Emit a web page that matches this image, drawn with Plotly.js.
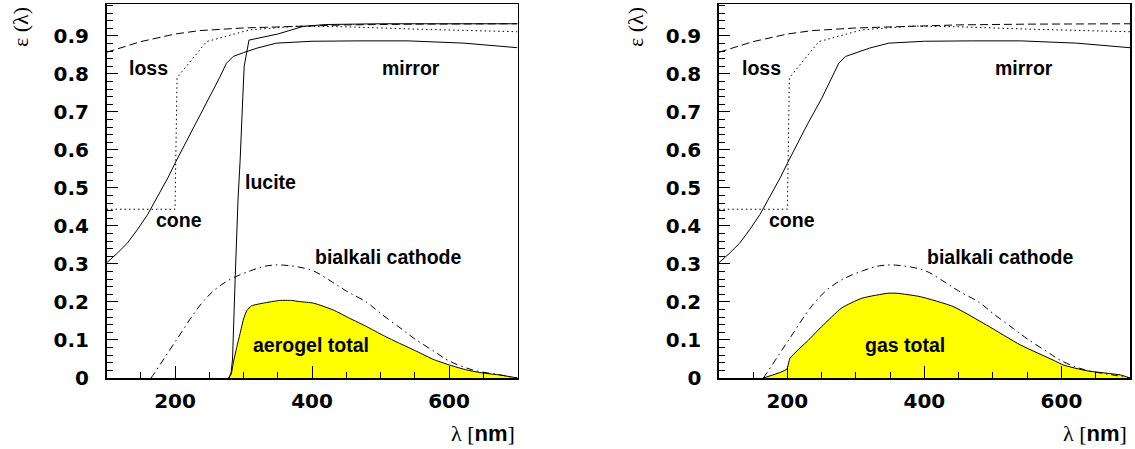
<!DOCTYPE html>
<html>
<head>
<meta charset="utf-8">
<script src="https://cdn.plot.ly/plotly-3.0.1.min.js"></script>
<style>html,body{margin:0;padding:0;background:#fff;}#chart{width:1135px;height:449px;}</style>
</head>
<body>
<div id="chart"></div>
<script>
// ---- data (wavelength in nm, efficiency) ----
var lossX = [100, 150, 200, 236, 300, 382, 450, 550, 700];
var lossY = [0.857, 0.885, 0.905, 0.914, 0.921, 0.926, 0.929, 0.931, 0.932];

var coneX = [100, 200, 203, 246, 309, 382, 450, 550, 700];
var coneY = [0.444, 0.444, 0.79, 0.885, 0.916, 0.926, 0.924, 0.918, 0.911];

var mirrorX = [100, 115, 130, 145, 160, 175, 190, 200, 215, 230, 250, 265, 275, 285, 300, 320, 348, 400, 470, 540, 622, 700];
var mirrorY = [0.303, 0.327, 0.354, 0.39, 0.43, 0.478, 0.528, 0.565, 0.617, 0.67, 0.735, 0.79, 0.828, 0.846, 0.856, 0.868, 0.881, 0.886, 0.887, 0.887, 0.881, 0.869];

var luciteX = [279, 282, 284, 286, 288, 292, 295, 299, 301, 308, 350, 387, 420, 500, 700];
var luciteY = [0, 0.015, 0.05, 0.14, 0.27, 0.47, 0.57, 0.74, 0.82, 0.889, 0.905, 0.925, 0.93, 0.932, 0.932];

var bialkaliX = [165, 170, 202, 236, 258, 280, 310, 334, 358, 400, 430, 450, 480, 500, 530, 550, 580, 600, 635, 675, 700];
var bialkaliY = [0, 0.013, 0.1, 0.19, 0.232, 0.259, 0.282, 0.295, 0.297, 0.283, 0.252, 0.229, 0.199, 0.17, 0.13, 0.103, 0.068, 0.045, 0.021, 0.008, 0];

var aerogelX = [278, 282, 285, 290, 295, 300, 305, 312, 329, 353, 370, 382, 402, 431, 455, 480, 504, 528, 553, 577, 601, 626, 650, 674, 700];
var aerogelY = [0, 0.01, 0.039, 0.08, 0.117, 0.155, 0.178, 0.19, 0.197, 0.204, 0.204, 0.201, 0.197, 0.179, 0.157, 0.135, 0.112, 0.091, 0.07, 0.049, 0.034, 0.021, 0.013, 0.008, 0];

var gasX = [165, 199, 204, 231, 250, 279, 309, 347, 360, 394, 442, 491, 540, 588, 603, 637, 686, 700];
var gasY = [0, 0.023, 0.052, 0.1, 0.135, 0.184, 0.21, 0.223, 0.223, 0.214, 0.188, 0.139, 0.087, 0.047, 0.034, 0.019, 0.008, 0];

var yTickVals = [0, 0.1, 0.2, 0.3, 0.4, 0.5, 0.6, 0.7, 0.8, 0.9];
var yTickText = ["0", "0.1", "0.2", "0.3", "0.4", "0.5", "0.6", "0.7", "0.8", "0.9"];
var xTickVals = [200, 400, 600];
var xTickText = ["200", "400", "600"];

// ---- traces ----
function line(x, y, xa, ya, dash, shape) {
  return {x: x, y: y, xaxis: xa, yaxis: ya, type: 'scatter', mode: 'lines',
          line: {color: '#000', width: 1, dash: dash, shape: shape || 'linear', smoothing: 1},
          hoverinfo: 'skip', showlegend: false};
}
function fillTrace(x, y, xa, ya) {
  return {x: x, y: y, xaxis: xa, yaxis: ya, type: 'scatter', mode: 'lines',
          fill: 'tozeroy', fillcolor: '#ffff00',
          line: {color: '#000', width: 1, shape: 'spline', smoothing: 0.5}, hoverinfo: 'skip', showlegend: false};
}
var DASH = '8px,4px', DOT = '1.5px,3px', DASHDOT = '7px,4px,1.5px,4px';
var traces = [
  fillTrace(aerogelX, aerogelY, 'x', 'y'),
  line(lossX, lossY, 'x', 'y', DASH),
  line(coneX, coneY, 'x', 'y', DOT),
  line(mirrorX, mirrorY, 'x', 'y', 'solid'),
  line(luciteX, luciteY, 'x', 'y', 'solid'),
  line(bialkaliX, bialkaliY, 'x', 'y', DASHDOT, 'spline'),
  fillTrace(gasX, gasY, 'x2', 'y2'),
  line(lossX, lossY, 'x2', 'y2', DASH),
  line(coneX, coneY, 'x2', 'y2', DOT),
  line(mirrorX, mirrorY, 'x2', 'y2', 'solid'),
  line(bialkaliX, bialkaliY, 'x2', 'y2', DASHDOT, 'spline')
];

var tickFont = {family: 'DejaVu Sans, Liberation Sans, Arial, sans-serif', size: 20, color: '#000', weight: 'bold'};
function xAxis(domain, anchor) {
  return {domain: domain, anchor: anchor, range: [100, 700], showgrid: false, zeroline: false,
          showline: true, mirror: true, linecolor: '#000', linewidth: 1.5,
          ticks: 'inside', ticklen: 12, tickwidth: 1, tickcolor: '#000',
          tickmode: 'array', tickvals: xTickVals, ticktext: xTickText,
          minor: {dtick: 50, tick0: 0, ticks: 'inside', ticklen: 6, tickwidth: 1, tickcolor: '#000', showgrid: false},
          tickfont: tickFont, ticklabelstandoff: 4, fixedrange: true};
}
function yAxis(domain, anchor) {
  return {domain: domain, anchor: anchor, range: [0, 0.984], showgrid: false, zeroline: false,
          showline: true, mirror: true, linecolor: '#000', linewidth: 1.5,
          ticks: 'inside', ticklen: 11, tickwidth: 1, tickcolor: '#000',
          tickmode: 'array', tickvals: yTickVals, ticktext: yTickText,
          minor: {dtick: 0.02, tick0: 0, ticks: 'inside', ticklen: 6, tickwidth: 1, tickcolor: '#000', showgrid: false},
          tickfont: tickFont, ticklabelstandoff: 12, fixedrange: true};
}

var labFont = {family: 'Liberation Sans, Arial, sans-serif', size: 19.5, color: '#000'};
function lab(text, x, y, xr, yr) {
  return {text: '<b>' + text + '</b>', x: x, y: y, xref: xr, yref: yr, xanchor: 'left', yanchor: 'middle',
          showarrow: false, font: labFont};
}
var symFont = {family: 'Liberation Serif, Times New Roman, serif', size: 22, color: '#000'};
var annotations = [
  lab('loss', 130, 0.816, 'x', 'y'),
  lab('mirror', 499, 0.816, 'x', 'y'),
  lab('cone', 169, 0.416, 'x', 'y'),
  lab('lucite', 299, 0.516, 'x', 'y'),
  lab('bialkali cathode', 401, 0.318, 'x', 'y'),
  lab('aerogel total', 310.5, 0.087, 'x', 'y'),
  lab('loss', 131, 0.816, 'x2', 'y2'),
  lab('mirror', 500, 0.816, 'x2', 'y2'),
  lab('cone', 170, 0.416, 'x2', 'y2'),
  lab('bialkali cathode', 401, 0.318, 'x2', 'y2'),
  lab('gas total', 310.5, 0.087, 'x2', 'y2'),
  {text: 'ε (λ)', x: 20 / 1135, y: 1 - 27 / 449, xref: 'paper', yref: 'paper', xanchor: 'center', yanchor: 'middle',
   textangle: -90, showarrow: false, font: symFont},
  {text: 'ε (λ)', x: 635 / 1135, y: 1 - 27 / 449, xref: 'paper', yref: 'paper', xanchor: 'center', yanchor: 'middle',
   textangle: -90, showarrow: false, font: symFont},
  {text: 'λ [<b style="font-family:Liberation Sans">nm</b>]', x: 517 / 1135, y: 1 - 433 / 449, xref: 'paper', yref: 'paper',
   xanchor: 'right', yanchor: 'middle', showarrow: false, font: symFont},
  {text: 'λ [<b style="font-family:Liberation Sans">nm</b>]', x: 1129 / 1135, y: 1 - 433 / 449, xref: 'paper', yref: 'paper',
   xanchor: 'right', yanchor: 'middle', showarrow: false, font: symFont}
];

var yDom = [(449 - 378) / 449, (449 - 4) / 449];
var layout = {
  width: 1135, height: 449,
  margin: {l: 0, r: 0, t: 0, b: 0, pad: 0},
  paper_bgcolor: '#fff', plot_bgcolor: '#fff',
  showlegend: false,
  xaxis: xAxis([106.5 / 1135, 517.5 / 1135], 'y'),
  yaxis: yAxis(yDom, 'x'),
  xaxis2: xAxis([718.8 / 1135, 1130 / 1135], 'y2'),
  yaxis2: yAxis(yDom, 'x2'),
  annotations: annotations
};

Plotly.newPlot('chart', traces, layout, {staticPlot: true, displayModeBar: false});
</script>
</body>
</html>
